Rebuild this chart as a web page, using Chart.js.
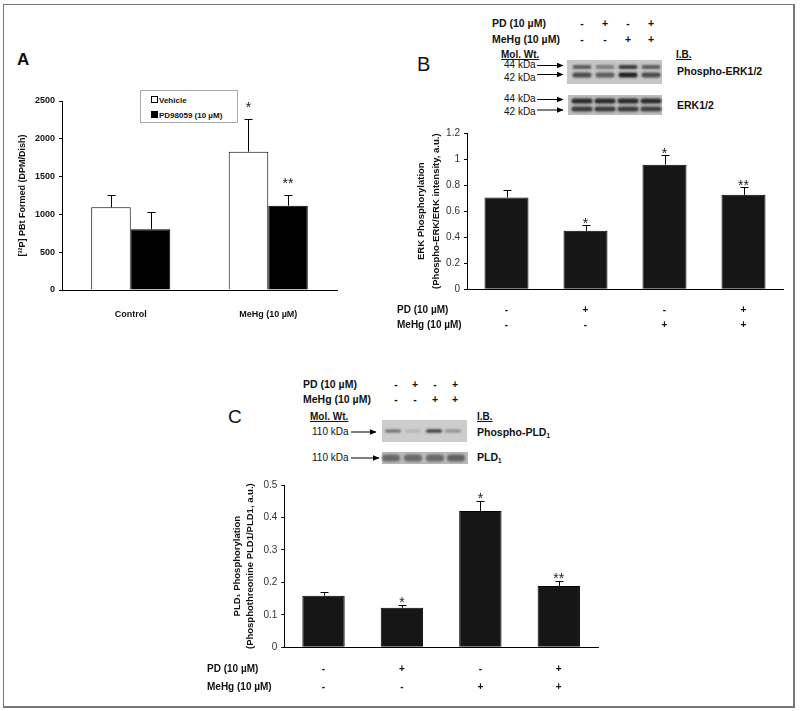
<!DOCTYPE html>
<html>
<head>
<meta charset="utf-8">
<script src="https://cdn.jsdelivr.net/npm/chart.js@4.4.1/dist/chart.umd.min.js"></script>
<style>
body{margin:0;background:#fff;font-family:"Liberation Sans",Arial,sans-serif;color:#111}
#page{position:relative;width:800px;height:711px;overflow:hidden}
#frame{position:absolute;left:3px;top:4px;width:789px;height:701px;border:1px solid #777;border-right-width:2px;border-bottom-width:2px}
canvas{position:absolute}
svg{position:absolute;left:0;top:0}
.t{position:absolute;white-space:nowrap;transform:translateY(-50%);line-height:1}
.c{transform:translate(-50%,-50%)}
.b{font-weight:bold}
.u{text-decoration:underline}
sub{font-size:0.6em;vertical-align:-0.25em}
#legA{position:absolute;left:140px;top:90px;width:96px;height:31px;border:1px solid #aaa;background:#fff;font:bold 8px "Liberation Sans",Arial,sans-serif}
#legA div{position:absolute;left:10px;white-space:nowrap}
#legA span{display:inline-block;width:5px;height:5px;border:1px solid #000;margin-right:1px;vertical-align:0}
</style>
</head>
<body>
<div id="page">
  <div id="frame"></div>
  <svg id="art" width="800" height="711"></svg>
  <canvas id="chartA" width="345" height="240" style="left:0;top:80px"></canvas>
  <canvas id="chartB" width="412" height="220" style="left:380px;top:118px"></canvas>
  <canvas id="chartC" width="410" height="230" style="left:200px;top:470px"></canvas>
  <div id="legA"></div>
</div>
<script>
// ---- data ----
const groupsA = ['Control', 'MeHg (10 µM)'];
const vehicle = [1095, 1830];
const vehicleErr = [166, 432];
const vehicleStars = ['', '*'];
const pd98059 = [803, 1115];
const pd98059Err = [235, 137];
const pd98059Stars = ['', '**'];

const pdSigns = ['-', '+', '-', '+'];
const mehgSigns = ['-', '-', '+', '+'];

const erk = [0.705, 0.449, 0.957, 0.725];
const erkErr = [0.055, 0.041, 0.074, 0.064];
const erkStars = ['', '*', '*', '**'];

const pld = [0.159, 0.122, 0.420, 0.189];
const pldErr = [0.011, 0.008, 0.031, 0.015];
const pldStars = ['', '*', '*', '**'];

// band darkness in the blot pictures (0..1)
const pErkTop = [0.65, 0.45, 0.85, 0.65];
const pErkLow = [0.75, 0.65, 1.0, 0.75];
const erkTop = [0.95, 0.95, 0.95, 0.95];
const erkLow = [0.85, 0.85, 0.85, 0.8];
const pPld = [0.55, 0.12, 0.9, 0.35];
const pldTot = [0.55, 0.55, 0.55, 0.6];

const FONT = '"Liberation Sans", Arial, sans-serif';
const page = document.getElementById('page');

function put(x, y, html, cls, size){
  const d = document.createElement('div');
  d.className = 't ' + (cls || '');
  d.style.left = x + 'px';
  d.style.top = y + 'px';
  d.style.fontSize = (size || 10) + 'px';
  d.innerHTML = html;
  page.appendChild(d);
}

// ---- blot pictures ----
const art = document.getElementById('art');
let svg = '<defs><filter id="bl" x="-30%" y="-80%" width="160%" height="260%"><feGaussianBlur stdDeviation="1.1"/></filter>' +
  '<marker id="ah" markerWidth="7" markerHeight="6" refX="6.5" refY="3" orient="auto" markerUnits="userSpaceOnUse"><path d="M0,0 L7,3 L0,6 z" fill="#000"/></marker></defs>';
function blot(x, y, w, h, bg){ svg += `<rect x="${x}" y="${y}" width="${w}" height="${h}" fill="${bg}"/>`; }
function bands(xs, y, w, h, dark){
  xs.forEach((cx, i) => {
    const g = Math.round(200 - 170 * dark[i]);
    svg += `<rect x="${cx - w / 2}" y="${y - h / 2}" width="${w}" height="${h}" rx="${h / 2}" fill="rgb(${g},${g},${g})" filter="url(#bl)"/>`;
  });
}
function arrow(x1, x2, y){ svg += `<line x1="${x1}" y1="${y}" x2="${x2}" y2="${y}" stroke="#000" stroke-width="1" marker-end="url(#ah)"/>`; }

const lanesB = [582, 605, 628, 651];
blot(567, 60, 95, 24, '#c6c6c6');
bands(lanesB, 67, 19, 4, pErkTop);
bands(lanesB, 75, 19, 5, pErkLow);
blot(568, 95, 94, 20, '#bdbdbd');
bands(lanesB, 101, 21, 5, erkTop);
bands(lanesB, 109, 21, 5, erkLow);
arrow(537, 563, 65.5); arrow(537, 563, 74.5);
arrow(537, 563, 99.5); arrow(537, 563, 110);

const lanesC = [393, 413, 434, 453];
blot(382, 420, 85, 22, '#cdcdcd');
bands(lanesC, 431, 16, 3, pPld);
blot(382, 452, 86, 12, '#b9b9b9');
bands([391, 413, 435, 456], 458, 18, 7, pldTot);
arrow(351, 376, 432); arrow(351, 379, 458);
art.innerHTML = svg;

// ---- panel labels and blot texts ----
put(17, 59, 'A', 'b', 17);

put(417, 64, 'B', '', 20);
put(492, 23, 'PD (10 µM)', 'b', 10.5);
put(492, 39, 'MeHg (10 µM)', 'b', 10.5);
lanesB.forEach((x, i) => { put(x, 23, pdSigns[i], 'b c', 10.5); put(x, 39, mehgSigns[i], 'b c', 10.5); });
put(501, 55, 'Mol. Wt.', 'b u', 10);
put(676, 55, 'I.B.', 'b u', 10);
put(504, 65, '44 kDa', '', 10);
put(504, 77.5, '42 kDa', '', 10);
put(677, 71, 'Phospho-ERK1/2', 'b', 10.5);
put(504, 99, '44 kDa', '', 10);
put(504, 112, '42 kDa', '', 10);
put(677, 105, 'ERK1/2', 'b', 10.5);

put(228, 416, 'C', '', 19);
put(303, 384, 'PD (10 µM)', 'b', 10.5);
put(303, 399, 'MeHg (10 µM)', 'b', 10.5);
[396, 415, 435, 455].forEach((x, i) => { put(x, 384, pdSigns[i], 'b c', 10.5); put(x, 399, mehgSigns[i], 'b c', 10.5); });
put(310, 417, 'Mol. Wt.', 'b u', 10);
put(477, 417, 'I.B.', 'b u', 10);
put(312, 432, '110 kDa', '', 10);
put(477, 433, 'Phospho-PLD<sub>1</sub>', 'b', 10.5);
put(312, 458, '110 kDa', '', 10);
put(477, 458, 'PLD<sub>1</sub>', 'b', 10.5);

// ---- plugins ----
const errBars = {
  id: 'errBars',
  afterDatasetsDraw(chart, args, o){
    const {ctx} = chart;
    const y = chart.scales.y;
    chart.data.datasets.forEach((ds, di) => {
      chart.getDatasetMeta(di).data.forEach((bar, i) => {
        const top = Math.round(y.getPixelForValue(ds.data[i] + ds.err[i])) + 0.5;
        const base = y.getPixelForValue(ds.data[i]);
        const bx = Math.round(bar.x) + 0.5;
        ctx.save();
        ctx.strokeStyle = '#000';
        ctx.lineWidth = 1;
        ctx.beginPath();
        ctx.moveTo(bx, base); ctx.lineTo(bx, top);
        ctx.moveTo(bx - o.cap, top); ctx.lineTo(bx + o.cap, top);
        ctx.stroke();
        const s = ds.stars[i];
        if (s) {
          ctx.font = o.starFont;
          ctx.fillStyle = '#222';
          ctx.textAlign = 'center';
          ctx.textBaseline = 'alphabetic';
          ctx.fillText(s, bar.x, top - o.starGap + o.starLift);
        }
        ctx.restore();
      });
    });
  }
};

const signRows = {
  id: 'signRows',
  afterDraw(chart, args, o){
    if (!o.rows) return;
    const {ctx, chartArea} = chart;
    const x = chart.scales.x;
    ctx.save();
    ctx.font = o.font;
    ctx.fillStyle = '#111';
    ctx.textBaseline = 'middle';
    o.rows.forEach((r, ri) => {
      const yy = chartArea.bottom + o.offsets[ri];
      ctx.textAlign = 'left';
      ctx.fillText(r.name, o.labelX, yy);
      ctx.textAlign = 'center';
      r.signs.forEach((s, i) => ctx.fillText(s, x.getPixelForValue(i), yy));
    });
    ctx.restore();
  }
};

function yAxis(max, step, width, title, titleFont, tickFont, tickColor, pad, fmt){
  return {
    min: 0, max: max,
    afterFit: s => { s.width = width; },
    ticks: {stepSize: step, font: tickFont, color: tickColor, padding: 4, callback: fmt},
    grid: {display: true, drawOnChartArea: false, drawTicks: true, tickLength: 3, color: '#000'},
    border: {display: true, color: '#000', width: 1},
    title: {display: true, text: title, font: titleFont, color: '#111', padding: {top: pad, bottom: 0}}
  };
}
const plain = v => String(Math.round(v));
const oneDec = v => String(+v.toFixed(1));

// ---- chart A ----
new Chart(document.getElementById('chartA'), {
  type: 'bar',
  data: {
    labels: groupsA,
    datasets: [
      {label: 'Vehicle', data: vehicle, err: vehicleErr, stars: vehicleStars, backgroundColor: '#fff', borderColor: '#000', borderWidth: 1},
      {label: 'PD98059 (10 µM)', data: pd98059, err: pd98059Err, stars: pd98059Stars, backgroundColor: '#000', borderColor: '#000', borderWidth: 1}
    ]
  },
  options: {
    responsive: false, animation: false, devicePixelRatio: 1,
    layout: {padding: {top: 21, right: 8, left: 0, bottom: 0}},
    datasets: {bar: {categoryPercentage: 0.575, barPercentage: 1}},
    scales: {
      x: {
        afterFit: s => { s.height = 30; },
        ticks: {font: {family: FONT, size: 9, weight: 'bold'}, color: '#111', padding: 11},
        grid: {display: false},
        border: {display: true, color: '#000', width: 1}
      },
      y: yAxis(2500, 500, 62, '[³²P] PBt Formed (DPM/Dish)',
        {family: FONT, size: 9, weight: 'bold'}, {family: FONT, size: 9, weight: 'bold'}, '#111', 17.5, plain)
    },
    plugins: {
      legend: {display: false}, tooltip: {enabled: false},
      errBars: {cap: 4, starFont: '14px ' + FONT, starGap: 16, starLift: 8}
    }
  },
  plugins: [errBars]
});

// HTML legend for chart A, built from its series
const legA = document.getElementById('legA');
[['Vehicle', '#fff'], ['PD98059 (10 µM)', '#000']].forEach((it, i) => {
  const d = document.createElement('div');
  d.style.top = (i ? 20 : 5) + 'px';
  d.innerHTML = `<span style="background:${it[1]}"></span>${it[0]}`;
  legA.appendChild(d);
});

// ---- chart B ----
new Chart(document.getElementById('chartB'), {
  type: 'bar',
  data: {
    labels: pdSigns.map((s, i) => s + '/' + mehgSigns[i]),
    datasets: [{data: erk, err: erkErr, stars: erkStars, backgroundColor: '#161616', borderColor: '#000', borderWidth: 1}]
  },
  options: {
    responsive: false, animation: false, devicePixelRatio: 1,
    layout: {padding: {top: 15, right: 9, left: 0, bottom: 0}},
    datasets: {bar: {categoryPercentage: 0.557, barPercentage: 1}},
    scales: {
      x: {
        afterFit: s => { s.height = 48.7; },
        ticks: {display: false},
        grid: {display: false},
        border: {display: true, color: '#000', width: 1}
      },
      y: yAxis(1.2, 0.2, 87, ['ERK Phosphorylation', '(Phospho-ERK/ERK intensity, a.u.)'],
        {family: FONT, size: 9.5, weight: 'bold', lineHeight: 1.55}, {family: FONT, size: 10}, '#333', 34.5, oneDec)
    },
    plugins: {
      legend: {display: false}, tooltip: {enabled: false},
      errBars: {cap: 4, starFont: '14px ' + FONT, starGap: 6, starLift: 8},
      signRows: {
        font: 'bold 10px ' + FONT, labelX: 17, offsets: [20.7, 36],
        rows: [{name: 'PD (10 µM)', signs: pdSigns}, {name: 'MeHg (10 µM)', signs: mehgSigns}]
      }
    }
  },
  plugins: [errBars, signRows]
});

// ---- chart C ----
new Chart(document.getElementById('chartC'), {
  type: 'bar',
  data: {
    labels: pdSigns.map((s, i) => s + '/' + mehgSigns[i]),
    datasets: [{data: pld, err: pldErr, stars: pldStars, backgroundColor: '#161616', borderColor: '#000', borderWidth: 1}]
  },
  options: {
    responsive: false, animation: false, devicePixelRatio: 1,
    layout: {padding: {top: 15, right: 12, left: 0, bottom: 0}},
    datasets: {bar: {categoryPercentage: 0.54, barPercentage: 1}},
    scales: {
      x: {
        afterFit: s => { s.height = 52.7; },
        ticks: {display: false},
        grid: {display: false},
        border: {display: true, color: '#000', width: 1}
      },
      y: yAxis(0.5, 0.1, 84.3, ['PLD₁ Phosphorylation', '(Phosphothreonine PLD1/PLD1, a.u.)'],
        {family: FONT, size: 9.5, weight: 'bold', lineHeight: 1.37}, {family: FONT, size: 10}, '#333', 30.5, oneDec)
    },
    plugins: {
      legend: {display: false}, tooltip: {enabled: false},
      errBars: {cap: 4, starFont: '14px ' + FONT, starGap: 7, starLift: 8},
      signRows: {
        font: 'bold 10px ' + FONT, labelX: 7, offsets: [21.7, 39.7],
        rows: [{name: 'PD (10 µM)', signs: pdSigns}, {name: 'MeHg (10 µM)', signs: mehgSigns}]
      }
    }
  },
  plugins: [errBars, signRows]
});
</script>
</body>
</html>
